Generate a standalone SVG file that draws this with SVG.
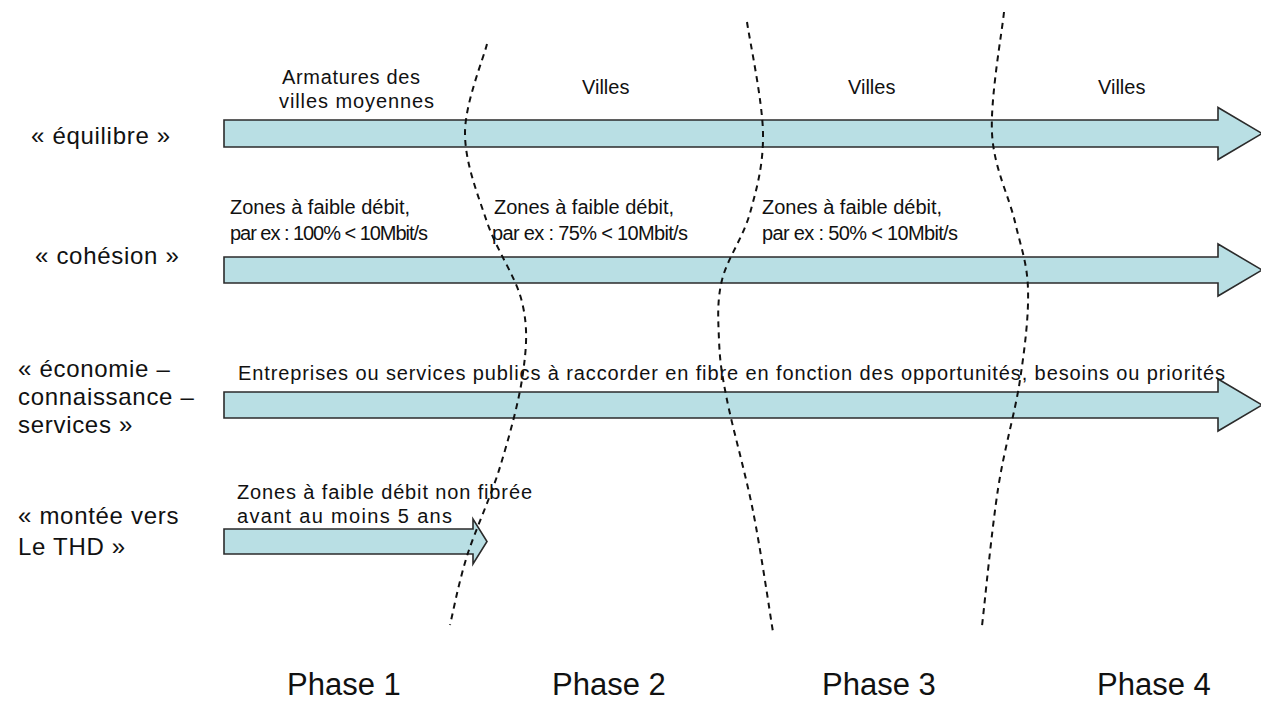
<svg xmlns="http://www.w3.org/2000/svg" width="1261" height="702" viewBox="0 0 1261 702">
<style>
.bg{fill:#ffffff}
.arrow{fill:#b9dfe4;stroke:#2b2b2b;stroke-width:1.6;stroke-linejoin:miter}
.lbl{font-family:"Liberation Sans",Arial,sans-serif;font-size:24px;letter-spacing:0.7px;fill:#111}
.txt{font-family:"Liberation Sans",Arial,sans-serif;font-size:20px;fill:#111}
.phase{font-family:"Liberation Sans",Arial,sans-serif;font-size:31px;fill:#111}
.dash{fill:none;stroke:#111;stroke-width:2;stroke-dasharray:6 5}
</style>
<rect class="bg" x="0" y="0" width="1261" height="702"/>

<g id="row-equilibre">
<text class="lbl" x="31" y="144">« équilibre »</text>
<path class="arrow" d="M224,120 H1218 V107.5 L1262,133.5 L1218,159.5 V147 H224 Z"/>
<text class="txt" x="282" y="84" textLength="138">Armatures des</text>
<text class="txt" x="279" y="108" textLength="155">villes moyennes</text>
<text class="txt" x="582" y="94">Villes</text>
<text class="txt" x="848" y="94">Villes</text>
<text class="txt" x="1098" y="94">Villes</text>
</g>

<g id="row-cohesion">
<text class="lbl" x="35" y="264">« cohésion »</text>
<path class="arrow" d="M224,257 H1218 V244 L1262,270 L1218,296 V283 H224 Z"/>
<text class="txt" x="230" y="214">Zones à faible débit,</text>
<text class="txt" x="230" y="240" textLength="198">par ex : 100% &lt; 10Mbit/s</text>
<text class="txt" x="494" y="214">Zones à faible débit,</text>
<text class="txt" x="492" y="240" textLength="196">par ex : 75% &lt; 10Mbit/s</text>
<text class="txt" x="762" y="214">Zones à faible débit,</text>
<text class="txt" x="762" y="240" textLength="196">par ex : 50% &lt; 10Mbit/s</text>
</g>

<g id="row-economie">
<text class="lbl" x="18" y="377">« économie –</text>
<text class="lbl" x="18" y="405">connaissance –</text>
<text class="lbl" x="18" y="433">services »</text>
<path class="arrow" d="M224,392 H1218 V379 L1262,405 L1218,431 V418 H224 Z"/>
<text class="txt" x="238" y="380" textLength="987">Entreprises ou services publics à raccorder en fibre en fonction des opportunités, besoins ou priorités</text>
</g>

<g id="row-thd">
<text class="lbl" x="18" y="524">« montée vers</text>
<text class="lbl" x="18" y="555">Le THD »</text>
<path class="arrow" d="M224,529 H473 V519 L487,541.5 L473,564 V554 H224 Z"/>
<text class="txt" x="237" y="499" textLength="295">Zones à faible débit non fibrée</text>
<text class="txt" x="237" y="523" textLength="215">avant au moins 5 ans</text>
</g>

<g id="connectors">
<path class="dash" d="M487,44 C483.3,58.8 465,103.3 465,133 C465,162.7 477.5,193.8 487,222 C496.5,250.2 516,276.8 522,302 C528,327.2 526.7,345.5 523,373 C519.3,400.5 509.3,436.5 500,467 C490.7,497.5 475.3,529.7 467,556 C458.7,582.3 452.8,613.5 450,625"/>
<path class="dash" d="M747,22 C749.7,40.5 762.5,101.2 763,133 C763.5,164.8 756.8,188.5 750,213 C743.2,237.5 727.2,258.8 722,280 C716.8,301.2 718.2,320 719,340 C719.8,360 721.3,371.5 727,400 C732.7,428.5 745.3,472.3 753,511 C760.7,549.7 769.7,611.8 773,632"/>
<path class="dash" d="M1004,12 C1002,32.2 990.2,98 992,133 C993.8,168 1009,196 1015,222 C1021,248 1027.2,262.7 1028,289 C1028.8,315.3 1025,346.7 1020,380 C1015,413.3 1004.3,448 998,489 C991.7,530 984.7,603.2 982,626"/>
</g>

<g id="phases">
<text class="phase" x="287" y="695">Phase 1</text>
<text class="phase" x="552" y="695">Phase 2</text>
<text class="phase" x="822" y="695">Phase 3</text>
<text class="phase" x="1097" y="695">Phase 4</text>
</g>
</svg>
